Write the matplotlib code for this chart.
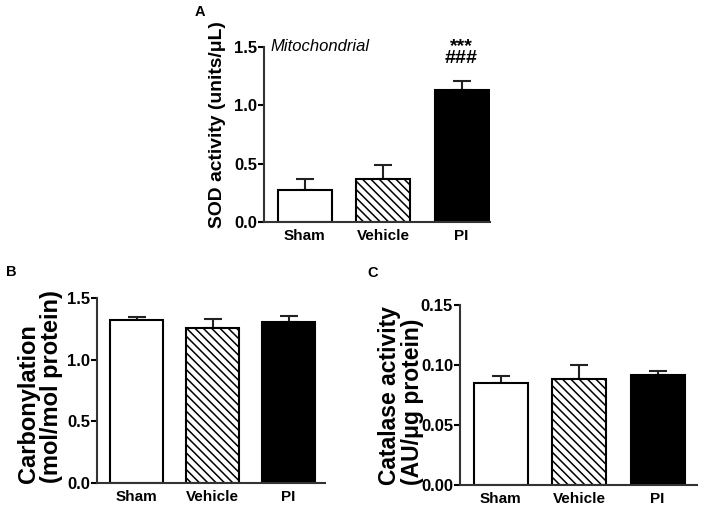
import matplotlib
matplotlib.use("Agg")
import matplotlib.pyplot as plt

plt.rcParams['font.family'] = ['Liberation Sans', 'DejaVu Sans']
plt.rcParams['hatch.linewidth'] = 1.1

groups = ["Sham", "Vehicle", "PI"]
fills = ["white", "white", "black"]
hatches = ["", "\\\\\\\\", ""]

sod_mean = [0.27, 0.365, 1.13]
sod_err = [0.10, 0.12, 0.08]

carb_mean = [1.32, 1.26, 1.31]
carb_err = [0.03, 0.07, 0.045]

cat_mean = [0.0853, 0.0883, 0.0914]
cat_err = [0.0058, 0.0120, 0.0033]

fig = plt.figure(figsize=(7.05, 5.08), dpi=100)

axA = fig.add_axes([0.3745, 0.563, 0.3206, 0.3445])
axB = fig.add_axes([0.1376, 0.0492, 0.3234, 0.364])
axC = fig.add_axes([0.6525, 0.0453, 0.336, 0.3543])


def draw_panel(ax, means, errs, ylim, yticks, xlim):
    x = range(len(groups))
    for i in x:
        ax.bar(i, means[i], width=0.69, color=fills[i], edgecolor="black",
               hatch=hatches[i], linewidth=1.5, zorder=2)
        ax.errorbar(i, means[i], yerr=[[0], [errs[i]]], fmt="none",
                    ecolor="#222222", elinewidth=1.5, capsize=6.5,
                    capthick=1.5, zorder=1)
    ax.set_ylim(*ylim)
    ax.set_xlim(*xlim)
    ax.set_yticks(yticks)
    ax.set_xticks(list(x))
    ax.set_xticklabels(groups, fontsize=11, fontweight="bold")
    for lab in ax.get_yticklabels():
        lab.set_fontweight("bold")
        lab.set_fontsize(12)
    ax.tick_params(axis="x", length=0, pad=5)
    ax.tick_params(axis="y", length=4, width=1.5, direction="out", pad=1)
    ax.spines["top"].set_visible(False)
    ax.spines["right"].set_visible(False)
    ax.spines["left"].set_linewidth(1.5)
    ax.spines["bottom"].set_linewidth(1.5)
    ax.spines["left"].set_color("#333333")
    ax.spines["bottom"].set_color("#333333")


draw_panel(axA, sod_mean, sod_err, (0, 1.5), [0.0, 0.5, 1.0, 1.5], (-0.522, 2.363))
draw_panel(axB, carb_mean, carb_err, (0, 1.5), [0.0, 0.5, 1.0, 1.5], (-0.52, 2.48))
draw_panel(axC, cat_mean, cat_err, (0, 0.15), [0.00, 0.05, 0.10, 0.15], (-0.52, 2.5))
axC.set_yticklabels(["0.00", "0.05", "0.10", "0.15"], fontweight="bold", fontsize=12)

# y labels (lines start at the bottom, like the original)
fig.text(218 / 705, 1 - 228 / 508, "SOD activity (units/\u03bcL)", rotation=90,
         fontsize=13.9, fontweight="bold", ha="center", va="bottom")
fig.text(40 / 705, 1 - 483 / 508, "Carbonylation\n(mol/mol protein)", rotation=90,
         fontsize=17, fontweight="bold", ha="center", va="bottom",
         multialignment="left", linespacing=1.0)
fig.text(401 / 705, 1 - 485 / 508, "Catalase activity\n(AU/\u03bcg protein)", rotation=90,
         fontsize=16.5, fontweight="bold", ha="center", va="bottom",
         multialignment="left", linespacing=1.0)

axA.text(0.03, 1.5, "Mitochondrial", fontsize=12, style="italic",
         ha="left", va="center", transform=axA.get_yaxis_transform())
# significance marks over PI
axA.text(2, 1.36, "***\n###", fontsize=14, fontweight="bold", ha="center",
         va="baseline", linespacing=0.6)

fig.text(200 / 705, 1 - 12 / 508, "A", fontsize=10.5, fontweight="bold", ha="center", va="center")
fig.text(11 / 705, 1 - 272 / 508, "B", fontsize=10.5, fontweight="bold", ha="center", va="center")
fig.text(373 / 705, 1 - 273 / 508, "C", fontsize=10.5, fontweight="bold", ha="center", va="center")

fig.savefig("out.png", dpi=100)
